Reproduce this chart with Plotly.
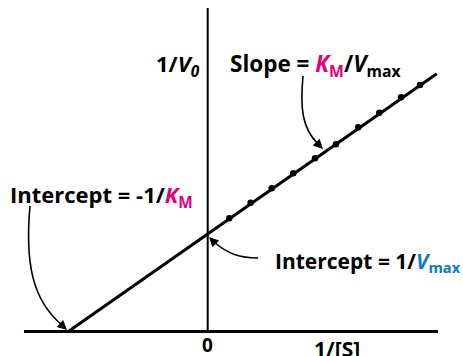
import plotly.graph_objects as go

# ---- data (arbitrary units) ----
KM = 1.0
VMAX = 1.0
inv_S = [0.155, 0.308, 0.459, 0.614, 0.770, 0.920, 1.080, 1.231, 1.387, 1.523]
inv_V = [1.161, 1.321, 1.469, 1.623, 1.776, 1.920, 2.094, 2.244, 2.402, 2.528]
line_x = [-1.0 / KM, 1.643]
axis_x = [-1.318, 1.652]
axis_y_top = 3.318

# body margin removed via post_script, so page pixels == figure pixels
OFF = 0
W, H = 463 - OFF, 356 - OFF
X0, SX = 207.7 - OFF, 139.4   # pixel of x=0, pixels per unit
Y0, SY = 331.5 - OFF, 97.5    # pixel of y=0, pixels per unit
xr = [(0 - X0) / SX, (W - X0) / SX]
yr = [(Y0 - H) / SY, (Y0 - 0) / SY]

def P(px, py):
    # page-pixel position -> data coordinates
    return (px - OFF - X0) / SX, (Y0 - (py - OFF)) / SY

MAG = "#E4007C"
BLUE = "#0A7CC0"
FONT = "Open Sans"

fig = go.Figure()

# axes
fig.add_trace(go.Scatter(x=axis_x, y=[0, 0], mode="lines",
                         line=dict(color="black", width=3), hoverinfo="skip"))
fig.add_trace(go.Scatter(x=[0, 0], y=[0, axis_y_top], mode="lines",
                         line=dict(color="black", width=2), hoverinfo="skip"))
# fitted line: 1/V0 = (KM/Vmax)(1/[S]) + 1/Vmax
line_y = [KM / VMAX * x + 1 / VMAX for x in line_x]
fig.add_trace(go.Scatter(x=line_x, y=line_y, mode="lines",
                         line=dict(color="black", width=3), hoverinfo="skip"))
# data points
fig.add_trace(go.Scatter(x=inv_S, y=inv_V, mode="markers",
                         marker=dict(color="black", size=6.5), hoverinfo="skip"))

def path_cubic(p0, c1, c2, p1):
    a, b, c, d = P(*p0), P(*c1), P(*c2), P(*p1)
    return f"M {a[0]},{a[1]} C {b[0]},{b[1]} {c[0]},{c[1]} {d[0]},{d[1]}"

shapes = [
    dict(type="path", path=path_cubic((303, 76), (300, 108), (302, 128), (318, 144)),
         line=dict(color="black", width=1.6)),
    dict(type="path", path=path_cubic((30, 206), (25, 262), (32, 300), (62, 325)),
         line=dict(color="black", width=1.6)),
    dict(type="path", path=path_cubic((258, 258), (240, 258), (228, 254), (214, 242)),
         line=dict(color="black", width=1.6)),
]

ann = []
def head(tip, dx, dy):
    x, y = P(*tip)
    ann.append(dict(x=x, y=y, xref="x", yref="y", ax=-dx, ay=-dy, text="",
                    font=dict(size=10),
                    showarrow=True, arrowhead=2, arrowsize=1.2, arrowwidth=1.6,
                    arrowcolor="black"))

head((323, 149), 6, 6)
head((67, 330), 6, 5.5)
head((209, 237), -6, -6)

def label(text, px, py, xanchor="left", size=22):
    x, y = P(px, py)
    ann.append(dict(x=x, y=y, xref="x", yref="y", text=text, showarrow=False,
                    xanchor=xanchor, yanchor="middle", borderpad=0,
                    font=dict(family=FONT, size=size, color="black", weight="bold")))

def km():
    return f"<i><span style='color:{MAG}'>K</span></i><span style='color:{MAG}'><sub>M</sub></span>"

label("1/<i>V<sub>0</sub></i>", 201, 65, xanchor="right")
label(f"Slope = {km()}/<i>V</i><sub>max</sub>", 229, 65, size=22.5)
label(f"Intercept = -1/{km()}", 9, 196)
label(f"Intercept = 1/<i><span style='color:{BLUE}'>V</span></i><span style='color:{BLUE}'><sub>max</sub></span>",
      462, 262, xanchor="right", size=21)
label("0", 207.7, 345, xanchor="center", size=19)
label("1/[S]", 337, 349, xanchor="center", size=21)

fig.update_layout(
    width=W, height=H, margin=dict(l=0, r=0, t=0, b=0),
    plot_bgcolor="white", paper_bgcolor="white", showlegend=False,
    hovermode=False,
    xaxis=dict(range=xr, visible=False, fixedrange=True),
    yaxis=dict(range=yr, visible=False, fixedrange=True),
    shapes=shapes, annotations=ann,
)
fig.write_html("out.html", config={"displayModeBar": False, "staticPlot": True},
               post_script="document.body.style.margin='0';document.body.style.overflow='hidden';")
